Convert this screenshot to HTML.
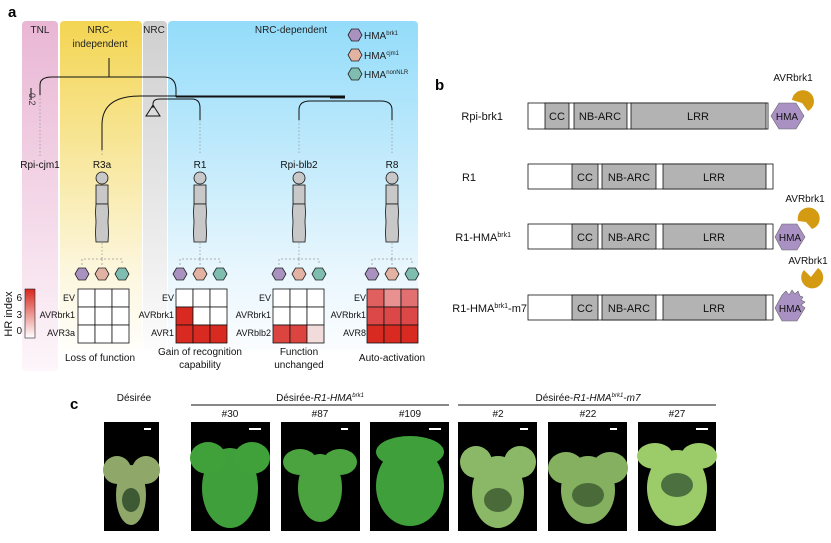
<!DOCTYPE html>
<html><head><meta charset="utf-8"><style>
html,body{margin:0;padding:0;background:#fff;}
svg{display:block;font-family:"Liberation Sans",sans-serif;}
</style></head><body>
<svg width="831" height="543" viewBox="0 0 831 543" xmlns="http://www.w3.org/2000/svg">
<defs>
<linearGradient id="gp" x1="0" y1="0" x2="0" y2="1"><stop offset="0" stop-color="#e9b6d4"/><stop offset="1" stop-color="#fdf6fa"/></linearGradient>
<linearGradient id="gy" x1="0" y1="0" x2="0" y2="1"><stop offset="0" stop-color="#f3d552"/><stop offset="0.75" stop-color="#fcf6dc"/><stop offset="1" stop-color="#fffefa"/></linearGradient>
<linearGradient id="gg" x1="0" y1="0" x2="0" y2="1"><stop offset="0" stop-color="#cfcfcf"/><stop offset="0.75" stop-color="#f0f0f0"/><stop offset="1" stop-color="#fdfdfd"/></linearGradient>
<linearGradient id="gb" x1="0" y1="0" x2="0" y2="1"><stop offset="0" stop-color="#93dcfa"/><stop offset="0.75" stop-color="#e8f6fd"/><stop offset="1" stop-color="#fbfdff"/></linearGradient>
<linearGradient id="cb" x1="0" y1="0" x2="0" y2="1"><stop offset="0" stop-color="#d7261e"/><stop offset="1" stop-color="#ffffff"/></linearGradient>
<g id="hex"><polygon points="-7,0 -3.5,-6 3.5,-6 7,0 3.5,6 -3.5,6" stroke="#222" stroke-width="0.8"/></g>
<g id="person"><circle cx="0" cy="0" r="6" fill="#c8c8c8" stroke="#111" stroke-width="0.8"/><rect x="-6" y="7" width="12" height="19" fill="#c8c8c8" stroke="#111" stroke-width="0.8"/><path d="M-6,26 L6,26 L6.5,34 L6,44 L6.5,55 L6,64 L-6,64 L-6.5,55 L-6,44 L-6.5,34 Z" fill="#c8c8c8" stroke="#111" stroke-width="0.8"/></g>
<g id="hexrow"><path d="M-20,-9 V-15 H20 V-9 M0,-15 V-18 M0,-15 V-9" fill="none" stroke="#999" stroke-width="0.8" stroke-dasharray="2,2"/><use href="#hex" x="-20" fill="#a991c0"/><use href="#hex" x="0" fill="#e2b2a2"/><use href="#hex" x="20" fill="#7fbdb0"/></g>
</defs>

<text x="8" y="17" font-size="15" font-weight="bold">a</text>
<rect x="22" y="21" width="36" height="350" rx="4" fill="url(#gp)"/>
<rect x="60" y="21" width="82" height="330" rx="4" fill="url(#gy)"/>
<rect x="143" y="21" width="24" height="330" rx="4" fill="url(#gg)"/>
<rect x="168" y="21" width="250" height="330" rx="4" fill="url(#gb)"/>
<g font-size="10" fill="#222" text-anchor="middle">
<text x="40" y="33">TNL</text>
<text x="100" y="33">NRC-</text><text x="100" y="47">independent</text>
<text x="154" y="33">NRC</text>
<text x="291" y="33">NRC-dependent</text>
</g>
<use href="#hex" x="355" y="35" fill="#a991c0"/><use href="#hex" x="355" y="55" fill="#e2b2a2"/><use href="#hex" x="355" y="74" fill="#7fbdb0"/>
<g font-size="10" fill="#222"><text x="364" y="39">HMA<tspan font-size="6" dy="-4">brk1</tspan></text>
<text x="364" y="59">HMA<tspan font-size="6" dy="-4">cjm1</tspan></text>
<text x="364" y="78">HMA<tspan font-size="6" dy="-4">nonNLR</tspan></text></g>

<g fill="none" stroke="#111" stroke-width="1">
<path d="M109,58 V77"/>
<path d="M40,95 V85 Q40,77 52,77 H164 Q176,77 176,90 V97"/>
<path d="M102,150 V125 Q102,96 140,96 H345"/>
<path d="M176,97 H345"/>
<path d="M232,96.5 H250" stroke-width="2"/>
<path d="M153,108 V104 Q153,99 160,99 H192 Q200,99 200,108 V120"/>
<path d="M299,120 V110 Q299,101 310,101 H381 Q392,101 392,110 V120"/>
<path d="M330,98 H345"/>
<polygon points="153,105 146,116 160,116"/>
<path d="M31,88 V100" />
</g>
<text transform="translate(29,93) rotate(90)" font-size="9" fill="#333">0.2</text>
<g stroke="#999" stroke-dasharray="1.5,2" stroke-width="0.8">
<path d="M40,95 V158"/><path d="M200,120 V155"/><path d="M299,120 V155"/><path d="M392,120 V155"/><path d="M102,150 V155"/>
</g>
<g font-size="10" fill="#111" text-anchor="middle">
<text x="40" y="168">Rpi-cjm1</text><text x="102" y="168">R3a</text><text x="200" y="168">R1</text><text x="299" y="168">Rpi-blb2</text><text x="392" y="168">R8</text>
</g>
<use href="#person" x="102" y="178"/><use href="#person" x="200" y="178"/><use href="#person" x="299" y="178"/><use href="#person" x="392" y="178"/>
<g stroke="#999" stroke-dasharray="1.5,2" stroke-width="0.8"><path d="M102,243 V255"/><path d="M200,243 V255"/><path d="M299,243 V255"/><path d="M392,243 V255"/></g>
<use href="#hexrow" x="102" y="274"/><use href="#hexrow" x="200" y="274"/><use href="#hexrow" x="299" y="274"/><use href="#hexrow" x="392" y="274"/>

<rect x="25" y="289" width="10" height="49" fill="url(#cb)" stroke="#222" stroke-width="0.6"/>
<g font-size="10" fill="#111" text-anchor="end"><text x="22" y="301">6</text><text x="22" y="318">3</text><text x="22" y="334">0</text></g>
<text transform="translate(12,314) rotate(-90)" font-size="11" text-anchor="middle" fill="#111">HR index</text>

<g font-size="9" fill="#111" text-anchor="end">
<text x="75" y="301">EV</text><text x="75" y="318">AVRbrk1</text><text x="75" y="336">AVR3a</text>
<text x="174" y="301">EV</text><text x="174" y="318">AVRbrk1</text><text x="174" y="336">AVR1</text>
<text x="271" y="301">EV</text><text x="271" y="318">AVRbrk1</text><text x="271" y="336">AVRblb2</text>
<text x="366" y="301">EV</text><text x="366" y="318">AVRbrk1</text><text x="366" y="336">AVR8</text>
</g>
<g stroke="#111" stroke-width="0.8">
<g fill="#fff"><rect x="78" y="289" width="17" height="18"/><rect x="95" y="289" width="17" height="18"/><rect x="112" y="289" width="17" height="18"/>
<rect x="78" y="307" width="17" height="18"/><rect x="95" y="307" width="17" height="18"/><rect x="112" y="307" width="17" height="18"/>
<rect x="78" y="325" width="17" height="18"/><rect x="95" y="325" width="17" height="18"/><rect x="112" y="325" width="17" height="18"/></g>
<rect x="176" y="289" width="17" height="18" fill="#fff"/><rect x="193" y="289" width="17" height="18" fill="#fff"/><rect x="210" y="289" width="17" height="18" fill="#fff"/>
<rect x="176" y="307" width="17" height="18" fill="#d82a20"/><rect x="193" y="307" width="17" height="18" fill="#fff"/><rect x="210" y="307" width="17" height="18" fill="#fff"/>
<rect x="176" y="325" width="17" height="18" fill="#d82a20"/><rect x="193" y="325" width="17" height="18" fill="#d82a20"/><rect x="210" y="325" width="17" height="18" fill="#d82a20"/>
<rect x="273" y="289" width="17" height="18" fill="#fff"/><rect x="290" y="289" width="17" height="18" fill="#fff"/><rect x="307" y="289" width="17" height="18" fill="#fff"/>
<rect x="273" y="307" width="17" height="18" fill="#fff"/><rect x="290" y="307" width="17" height="18" fill="#fff"/><rect x="307" y="307" width="17" height="18" fill="#fff"/>
<rect x="273" y="325" width="17" height="18" fill="#dc4440"/><rect x="290" y="325" width="17" height="18" fill="#dc4440"/><rect x="307" y="325" width="17" height="18" fill="#f2dcdb"/>
<rect x="367" y="289" width="17" height="18" fill="#e06060"/><rect x="384" y="289" width="17" height="18" fill="#e99090"/><rect x="401" y="289" width="17" height="18" fill="#e27070"/>
<rect x="367" y="307" width="17" height="18" fill="#dc4848"/><rect x="384" y="307" width="17" height="18" fill="#dc4848"/><rect x="401" y="307" width="17" height="18" fill="#dc4848"/>
<rect x="367" y="325" width="17" height="18" fill="#d82a20"/><rect x="384" y="325" width="17" height="18" fill="#d82a20"/><rect x="401" y="325" width="17" height="18" fill="#d82a20"/>
</g>
<g font-size="10" fill="#111" text-anchor="middle">
<text x="100" y="361">Loss of function</text>
<text x="200" y="355">Gain of recognition</text><text x="200" y="368">capability</text>
<text x="299" y="355">Function</text><text x="299" y="368">unchanged</text>
<text x="392" y="361">Auto-activation</text>
</g>

<text x="435" y="90" font-size="15" font-weight="bold">b</text>
<g font-size="11" fill="#111" text-anchor="end">
<text x="503" y="120">Rpi-brk1</text>
<text x="476" y="181">R1</text>
<text x="511" y="241">R1-HMA<tspan font-size="7" dy="-4">brk1</tspan></text>
<text x="527" y="312">R1-HMA<tspan font-size="7" dy="-4">brk1</tspan><tspan dy="4">-m7</tspan></text>
</g>
<g stroke="#111" stroke-width="0.8">
<rect x="528" y="103" width="240" height="26" fill="#fff"/>
<rect x="545" y="103" width="24" height="26" fill="#b3b3b3"/><rect x="574" y="103" width="53" height="26" fill="#b3b3b3"/><rect x="631" y="103" width="135" height="26" fill="#b3b3b3"/>
</g>
<g id="r1bar" stroke="#111" stroke-width="0.8">
<rect x="528" y="164" width="245" height="25" fill="#fff"/>
<rect x="572" y="164" width="26" height="25" fill="#b3b3b3"/><rect x="602" y="164" width="54" height="25" fill="#b3b3b3"/><rect x="663" y="164" width="103" height="25" fill="#b3b3b3"/>
</g>
<use href="#r1bar" y="60"/><use href="#r1bar" y="131"/>
<g font-size="11" fill="#111" text-anchor="middle">
<text x="557" y="120">CC</text><text x="600" y="120">NB-ARC</text><text x="698" y="120">LRR</text>
<g id="r1t"><text x="585" y="181">CC</text><text x="629" y="181">NB-ARC</text><text x="714" y="181">LRR</text></g>
<use href="#r1t" y="60"/><use href="#r1t" y="131"/>
</g>
<g fill="#aa91c4" stroke="#666" stroke-width="0.6">
<polygon points="771,116 779,103 796,103 804,116 796,129 779,129"/>
<polygon points="775,237 782,224 797,224 805,237 797,250 782,250"/>
<polygon points="775,308 782,295 786,291 789,295 792,290 795,294 798,291 800,296 803,297 801,300 805,302 801,305 805,308 797,321 782,321"/>
</g>
<g font-size="10" fill="#111" text-anchor="middle">
<text x="787" y="120">HMA</text><text x="790" y="241">HMA</text><text x="790" y="312">HMA</text>
</g>
<g fill="#d49a12">
<path d="M792,100 A11,11 0 1 1 808,111 L802,103 Z"/>
<path d="M798,221 A11,11 0 1 1 812,229 L806,222 Z"/>
<path d="M804,270 L811,277 L818,268 A11,11 0 1 1 804,270 Z"/>
</g>
<g font-size="10" fill="#111" text-anchor="middle">
<text x="793" y="81">AVRbrk1</text><text x="805" y="202">AVRbrk1</text><text x="808" y="264">AVRbrk1</text>
</g>

<text x="70" y="409" font-size="15" font-weight="bold">c</text>
<g font-size="10" fill="#111" text-anchor="middle">
<text x="134" y="401">Désirée</text>
<text x="320" y="401">Désirée-<tspan font-style="italic">R1-HMA<tspan font-size="6" dy="-4">brk1</tspan></tspan></text>
<text x="588" y="401">Désirée-<tspan font-style="italic">R1-HMA<tspan font-size="6" dy="-4">brk1</tspan><tspan dy="4">-m7</tspan></tspan></text>
<text x="230" y="417">#30</text><text x="320" y="417">#87</text><text x="410" y="417">#109</text>
<text x="498" y="417">#2</text><text x="588" y="417">#22</text><text x="677" y="417">#27</text>
</g>
<path d="M191,405 H449 M458,405 H716" stroke="#111" stroke-width="1"/>
<g fill="#000">
<rect x="104" y="422" width="55" height="109"/><rect x="191" y="422" width="79" height="109"/><rect x="281" y="422" width="79" height="109"/><rect x="370" y="422" width="79" height="109"/>
<rect x="458" y="422" width="79" height="109"/><rect x="548" y="422" width="79" height="109"/><rect x="638" y="422" width="78" height="109"/>
</g>
<g>
<ellipse cx="131" cy="495" rx="15" ry="30" fill="#8fa86a"/><ellipse cx="117" cy="470" rx="14" ry="14" fill="#8fa86a"/><ellipse cx="146" cy="470" rx="14" ry="14" fill="#8fa86a"/>
<ellipse cx="131" cy="500" rx="9" ry="12" fill="#3e5a34"/>
<ellipse cx="230" cy="488" rx="28" ry="40" fill="#3f9f3a"/><ellipse cx="208" cy="458" rx="18" ry="16" fill="#40a03a"/><ellipse cx="252" cy="458" rx="18" ry="16" fill="#40a03a"/>
<ellipse cx="320" cy="488" rx="22" ry="34" fill="#4aa33e"/><ellipse cx="300" cy="462" rx="17" ry="13" fill="#4aa33e"/><ellipse cx="340" cy="462" rx="17" ry="13" fill="#4aa33e"/>
<ellipse cx="410" cy="486" rx="34" ry="40" fill="#3f9f3a"/><ellipse cx="410" cy="452" rx="34" ry="16" fill="#3f9f3a"/>
<ellipse cx="498" cy="492" rx="26" ry="36" fill="#8ab866"/><ellipse cx="476" cy="462" rx="16" ry="16" fill="#8ab866"/><ellipse cx="520" cy="462" rx="16" ry="16" fill="#8ab866"/>
<ellipse cx="498" cy="500" rx="14" ry="12" fill="#4a6a3a"/>
<ellipse cx="588" cy="490" rx="27" ry="34" fill="#84b060"/><ellipse cx="566" cy="468" rx="18" ry="16" fill="#84b060"/><ellipse cx="610" cy="468" rx="18" ry="16" fill="#84b060"/>
<ellipse cx="588" cy="495" rx="16" ry="12" fill="#4a6a3a"/>
<ellipse cx="677" cy="488" rx="30" ry="38" fill="#9ccc6a"/><ellipse cx="655" cy="456" rx="18" ry="13" fill="#9ccc6a"/><ellipse cx="699" cy="456" rx="18" ry="13" fill="#9ccc6a"/>
<ellipse cx="677" cy="485" rx="16" ry="12" fill="#4d7040"/>
</g>
<g fill="#fff"><rect x="144" y="428" width="7" height="2"/><rect x="249" y="428" width="12" height="2"/><rect x="341" y="428" width="7" height="2"/><rect x="429" y="428" width="12" height="2"/>
<rect x="520" y="428" width="8" height="2"/><rect x="610" y="428" width="7" height="2"/><rect x="696" y="428" width="12" height="2"/></g>
</svg>
</body></html>
